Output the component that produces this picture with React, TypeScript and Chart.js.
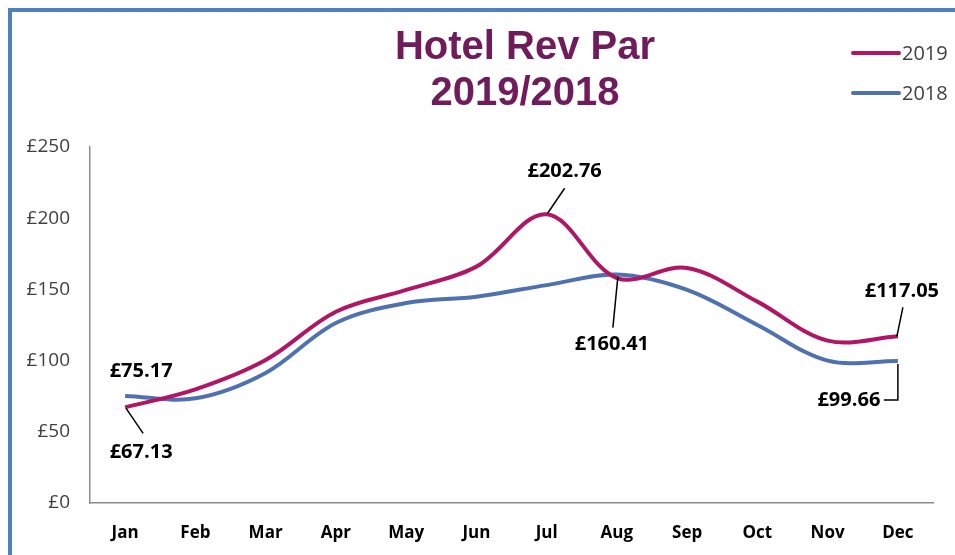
import React, { useEffect, useRef } from "react";
import { Chart, registerables } from "chart.js";

Chart.register(...registerables);

const months = ["Jan", "Feb", "Mar", "Apr", "May", "Jun", "Jul", "Aug", "Sep", "Oct", "Nov", "Dec"];
const revPar2019 = [67.13, 79.8, 100.4, 134.3, 149.6, 166.0, 202.76, 158.0, 165.0, 141.4, 114.0, 117.05];
const revPar2018 = [75.17, 73.5, 91.3, 126.4, 140.4, 144.9, 153.0, 160.41, 149.6, 125.0, 100.0, 99.66];
const yTicks = [0, 50, 100, 150, 200, 250];
const titleLines = ["Hotel Rev Par", "2019/2018"];

const PINK = "#B01663";
const BLUE = "#4F71AF";
const LABEL_FONT = "bold 20px 'Open Sans', sans-serif";

// labelled points: [datasetIndex, pointIndex, kind]
const callouts: [number, number, string][] = [
  [1, 0, "above"],
  [0, 0, "belowLeader"],
  [0, 6, "peak"],
  [1, 7, "down"],
  [0, 11, "upRight"],
  [1, 11, "elbow"],
];

const fmt = (v: number) => "£" + v.toFixed(2);

const decorPlugin = {
  id: "decor",
  beforeDraw(chart: any) {
    const ctx = chart.ctx;
    ctx.save();
    ctx.fillStyle = "#ffffff";
    ctx.fillRect(0, 0, chart.width, chart.height);
    ctx.strokeStyle = "#4F81BD";
    ctx.lineWidth = 4;
    ctx.strokeRect(10, 10, chart.width + 50, chart.height + 50);
    ctx.restore();
  },
  afterDraw(chart: any) {
    const ctx = chart.ctx;
    ctx.save();
    // title
    ctx.fillStyle = "#701C5B";
    ctx.font = "bold 40px 'Liberation Sans', Arial, sans-serif";
    ctx.textAlign = "center";
    ctx.textBaseline = "alphabetic";
    ctx.fillText(titleLines[0], 525, 59);
    ctx.fillText(titleLines[1], 525, 105);

    // legend
    const ys = [53, 93];
    chart.data.datasets.forEach((ds: any, i: number) => {
      ctx.strokeStyle = ds.borderColor;
      ctx.lineWidth = 4;
      ctx.lineCap = "round";
      ctx.beginPath();
      ctx.moveTo(853, ys[i]);
      ctx.lineTo(899, ys[i]);
      ctx.stroke();
      ctx.fillStyle = "#404040";
      ctx.font = "20px 'Open Sans', sans-serif";
      ctx.textAlign = "left";
      ctx.textBaseline = "alphabetic";
      ctx.fillText(ds.label, 902, ys[i] + 7);
    });

    // data callouts
    ctx.font = LABEL_FONT;
    ctx.textAlign = "center";
    ctx.textBaseline = "middle";
    ctx.lineCap = "butt";
    callouts.forEach(([di, pi, kind]) => {
      const el = chart.getDatasetMeta(di).data[pi];
      const v = chart.data.datasets[di].data[pi];
      const x = el.x;
      const y = el.y;
      ctx.strokeStyle = "#000000";
      ctx.lineWidth = 1.5;
      ctx.fillStyle = "#000000";
      let tx = x, ty = y;
      ctx.beginPath();
      if (kind === "above") {
        tx = x + 16; ty = y - 25;
      } else if (kind === "belowLeader") {
        tx = x + 16; ty = y + 45;
        ctx.moveTo(x + 1, y + 1); ctx.lineTo(x + 18, y + 26);
      } else if (kind === "peak") {
        tx = x + 18; ty = y - 43;
        ctx.moveTo(x + 1, y - 1); ctx.lineTo(x + 18, y - 26);
      } else if (kind === "down") {
        tx = x - 5; ty = y + 70;
        ctx.moveTo(x + 1, y + 2); ctx.lineTo(x - 4, y + 53);
      } else if (kind === "upRight") {
        tx = x + 4; ty = y - 45;
        ctx.moveTo(x - 1, y); ctx.lineTo(x + 5, y - 29);
      } else if (kind === "elbow") {
        tx = x - 49; ty = y + 39;
        ctx.moveTo(x, y + 3); ctx.lineTo(x, y + 39); ctx.lineTo(x - 14, y + 39);
      }
      ctx.stroke();
      ctx.fillText(fmt(v), tx, ty);
    });
    ctx.restore();
  },
};

export default function App() {
  const ref = useRef<HTMLCanvasElement | null>(null);
  useEffect(() => {
    if (!ref.current) return;
    const chart = new Chart(ref.current, {
      type: "line",
      data: {
        labels: months,
        datasets: [
          {
            label: "2019",
            data: revPar2019,
            borderColor: PINK,
            backgroundColor: PINK,
            borderWidth: 4,
            pointRadius: 0,
            tension: 0.35,
            fill: false,
          },
          {
            label: "2018",
            data: revPar2018,
            borderColor: BLUE,
            backgroundColor: BLUE,
            borderWidth: 4,
            pointRadius: 0,
            tension: 0.35,
            fill: false,
          },
        ],
      },
      options: {
        responsive: false,
        animation: false,
        layout: { padding: { top: 147, right: 22, left: 0, bottom: 0 } },
        plugins: { legend: { display: false }, title: { display: false }, tooltip: { enabled: false } },
        scales: {
          x: {
            offset: true,
            grid: { display: false, drawTicks: false },
            border: { display: true, color: "#8C8C8C", width: 1.5 },
            ticks: {
              color: "#000000",
              padding: 20,
              font: { family: "'Open Sans', sans-serif", size: 17, weight: "bold" },
              maxRotation: 0,
              autoSkip: false,
            },
            afterFit(scale: any) { scale.height = 52; },
          },
          y: {
            min: yTicks[0],
            max: yTicks[yTicks.length - 1],
            grid: { display: false, drawTicks: false },
            border: { display: true, color: "#8C8C8C", width: 1.5 },
            afterBuildTicks(scale: any) { scale.ticks = yTicks.map((v) => ({ value: v })); },
            ticks: {
              color: "#404040",
              padding: 20,
              font: { family: "'Open Sans', sans-serif", size: 19 },
              callback: (v: any) => "£" + v,
            },
            afterFit(scale: any) { scale.width = 90; },
          },
        },
      },
      plugins: [decorPlugin],
    });
    return () => chart.destroy();
  }, []);
  return (
    <div style={{ position: "absolute", left: 0, top: 0, width: 955, height: 555 }}>
      <canvas ref={ref} width={955} height={555} style={{ display: "block" }} />
    </div>
  );
}
